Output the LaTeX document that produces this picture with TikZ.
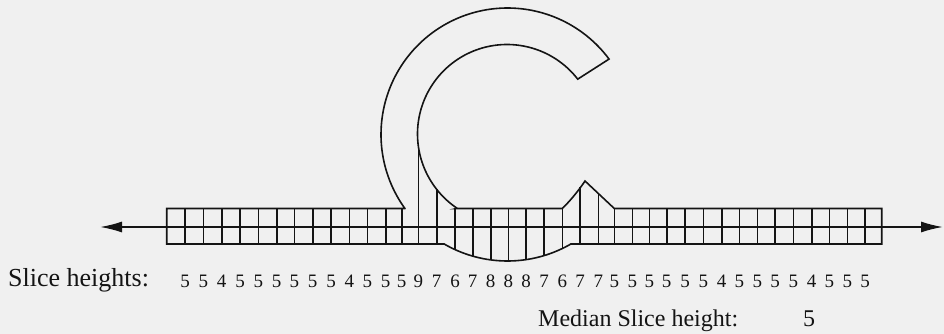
\documentclass[tikz,border=0pt]{standalone}
\usepackage{fontspec}
\setmainfont{Liberation Serif}
\usetikzlibrary{arrows.meta}
\definecolor{bg}{RGB}{240,240,240}
\definecolor{ink}{RGB}{20,20,20}
\begin{document}
\begin{tikzpicture}[x=1pt,y=-1pt,
  outline/.style={draw=ink, line width=1.6pt, line join=miter},
  gridline/.style={draw=ink, line width=1.6pt},
  axisarrow/.style={draw=ink, line width=1.6pt, {Latex[length=22pt,width=11pt]}-{Latex[length=22pt,width=11pt]}},
  lbl/.style={text=ink, font=\fontsize{26}{30}\selectfont, anchor=base west, inner sep=0pt},
  digit/.style={text=ink, font=\fontsize{19}{22}\selectfont, anchor=base, inner sep=0pt},
  med/.style={text=ink, font=\fontsize{24}{28}\selectfont, inner sep=0pt}]
\def\T{208.5}
\def\A{227}
\def\B{244}
\useasboundingbox (0,0) rectangle (944,334);
\fill[bg] (0,0) rectangle (944,334);
% outline of the slice band and the C
\draw[outline] (166.7,\T) -- (404.9,\T)
  -- plot[domain=144.2:323.4, samples=100] ({507.5+126.5*cos(\x)},{134.5+126.5*sin(\x)})
  -- plot[domain=322.2:123.65, samples=100] ({507+89.5*cos(\x)},{134+89.5*sin(\x)})
  -- (457.4,\T) -- (562.3,\T) .. controls (571,200) and (579,190) .. (585,181) -- (614.3,\T) -- (881.7,\T)
  -- (881.7,\B) -- (570.8,\B)
  -- plot[domain=60:120, samples=40] ({507.5+126.5*cos(\x)},{134.5+126.5*sin(\x)})
  -- (444.2,\B) -- (166.7,\B) -- cycle;
% axis
\coordinate (lefttip) at (100,\A);
\coordinate (righttip) at (943,\A);
\draw[axisarrow] (lefttip) -- (righttip);
% slice lines
\foreach \x in {185,203.3,221.7,240,258.3,276.7,294.3,312.7,331,349.3,367.3,385.7,401.7,
  614.3,632.3,649.3,666.7,685,703.3,721.7,739.3,757.3,775,793.3,811.7,829.3,847.3,865}
  \draw[gridline] (\x,\T) -- (\x,\B);
\foreach \x/\ya/\yb in {418.3/145.9/\B, 436.7/189.4/\B, 455/207.5/249.6, 472.7/\T/256.1,
  490.7/\T/259.9, 508.3/\T/261, 526/\T/259.6, 544/\T/255.6, 562.3/\T/248.5,
  580/186.5/\B, 598.3/193.5/\B}
  \draw[gridline] (\x,\ya) -- (\x,\yb);
% texts
\node[lbl] (slicelabel) at (8,286) {Slice heights:};
\foreach \k/\x/\d in {1/185/5,2/203.3/5,3/221.7/4,4/240/5,5/258.3/5,6/276.7/5,7/294.3/5,
  8/312.7/5,9/331/5,10/349.3/4,11/367.3/5,12/385.7/5,13/401.7/5,14/418.3/9,15/436.7/7,
  16/455/6,17/472.7/7,18/490.7/8,19/508.3/8,20/526/8,21/544/7,22/562.3/6,23/580/7,
  24/598.3/7,25/614.3/5,26/632.3/5,27/649.3/5,28/666.7/5,29/685/5,30/703.3/5,31/721.7/4,
  32/739.3/5,33/757.3/5,34/775/5,35/793.3/5,36/811.7/4,37/829.3/5,38/847.3/5,39/865/5}
  \node[digit] (h\k) at (\x,287) {\d};
\node[med, anchor=base west] (medianlabel) at (538,326) {Median Slice height:};
\node[med, anchor=base] (medianvalue) at (809,326) {5};
\end{tikzpicture}
\end{document}
